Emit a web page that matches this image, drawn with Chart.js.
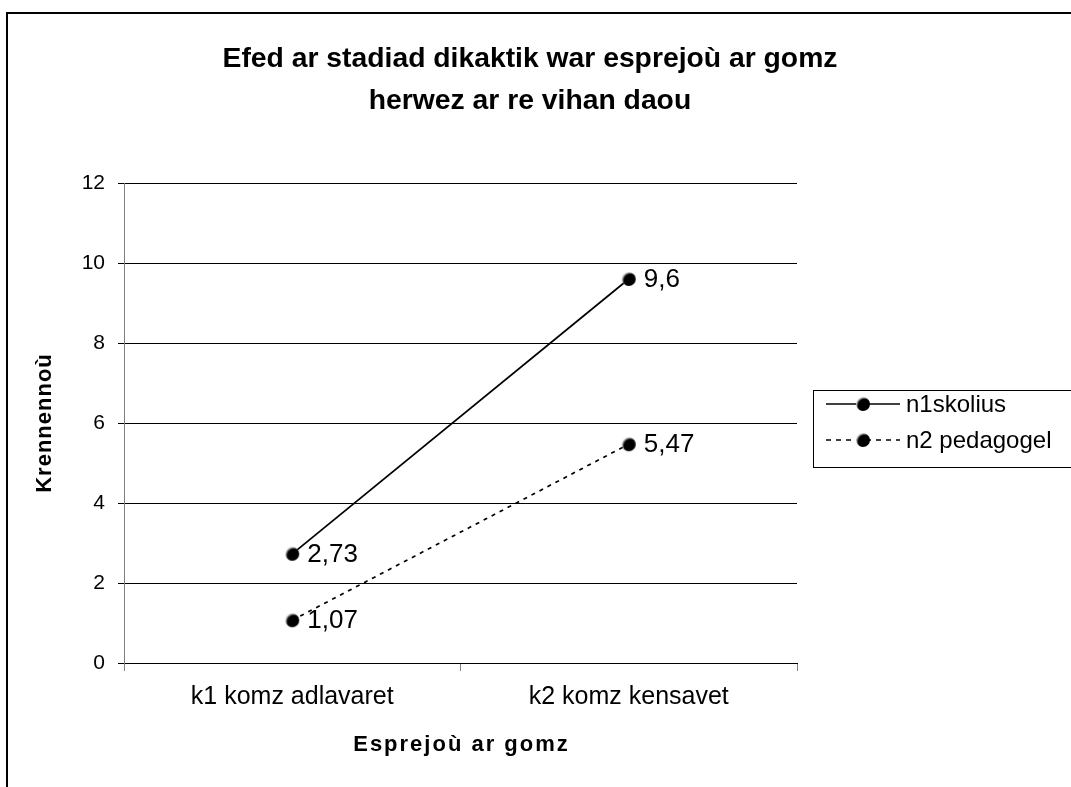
<!DOCTYPE html>
<html>
<head>
<meta charset="utf-8">
<script src="https://cdn.jsdelivr.net/npm/chart.js@4"></script>
<style>
  body { margin: 0; background: #fff; }
  #frame { position: absolute; left: 6px; top: 12px; width: 1100px; height: 800px; border: 2px solid #000; box-sizing: border-box; }
  #wrap { position: absolute; left: 0; top: 0; width: 1071px; height: 787px; }
</style>
</head>
<body>
<div id="frame"></div>
<div id="wrap"><canvas id="chart" width="1071" height="787"></canvas></div>
<script>
const categories = ['k1 komz adlavaret', 'k2 komz kensavet'];
const seriesNames = ['n1skolius', 'n2 pedagogel'];
const n1Values = [2.73, 9.6];
const n2Values = [1.07, 5.47];
const yTicks = [0, 2, 4, 6, 8, 10, 12];
const titleLines = ['Efed ar stadiad dikaktik war esprejoù ar gomz', 'herwez ar re vihan daou'];
const xTitle = 'Esprejoù ar gomz';
const yTitle = 'Krennennoù';

const FONT = '"Liberation Sans", Arial, sans-serif';

// little black ball with a light rim, like the old office marker
function makeBall(r) {
  const s = Math.ceil(r * 2 + 2);
  const c = document.createElement('canvas');
  c.width = s; c.height = s;
  const g = c.getContext('2d');
  const cx = s / 2, cy = s / 2;
  const grad = g.createRadialGradient(cx + 1.5, cy + 1.5, 0, cx + 1.5, cy + 1.5, r + 1.5);
  grad.addColorStop(0, '#000');
  grad.addColorStop(0.72, '#000');
  grad.addColorStop(1, '#d8d8d8');
  g.beginPath();
  g.arc(cx, cy, r, 0, Math.PI * 2);
  g.fillStyle = grad;
  g.fill();
  return c;
}
const ball = makeBall(7);

function fmt(v) {
  return String(v).replace('.', ',');
}

const decor = {
  id: 'decor',
  afterDraw(chart) {
    const ctx = chart.ctx;
    const area = chart.chartArea;
    ctx.save();
    ctx.fillStyle = '#000';
    ctx.textBaseline = 'middle';

    // title
    ctx.font = 'bold 28.3px ' + FONT;
    ctx.textAlign = 'center';
    titleLines.forEach((t, i) => ctx.fillText(t, 530, 59 + i * 42));

    // data labels
    ctx.font = '26px ' + FONT;
    ctx.textAlign = 'left';
    chart.data.datasets.forEach((ds, i) => {
      const meta = chart.getDatasetMeta(i);
      meta.data.forEach((pt, j) => {
        ctx.fillText(fmt(ds.data[j]), pt.x + 15, pt.y + 1);
      });
    });

    // legend
    const lx = 813.5, ly = 390.5;
    ctx.strokeStyle = '#000';
    ctx.lineWidth = 1;
    ctx.strokeRect(lx, ly, 300, 77);
    chart.data.datasets.forEach((ds, i) => {
      const y = 404 + i * 36;
      ctx.save();
      ctx.lineWidth = 1.5;
      ctx.setLineDash(ds.borderDash ? [5, 5] : []);
      ctx.beginPath();
      ctx.moveTo(826, y);
      ctx.lineTo(900, y);
      ctx.stroke();
      ctx.restore();
      ctx.drawImage(ball, 863 - ball.width / 2, y - ball.height / 2);
      ctx.font = '24px ' + FONT;
      ctx.textAlign = 'left';
      ctx.fillText(ds.label, 906, y + 1);
    });

    // axis titles
    ctx.font = 'bold 22px ' + FONT;
    ctx.textAlign = 'center';
    ctx.letterSpacing = '2px';
    ctx.fillText(xTitle, (area.left + area.right) / 2 + 1, 745);
    ctx.letterSpacing = '1px';
    ctx.translate(45, (area.top + area.bottom) / 2);
    ctx.rotate(-Math.PI / 2);
    ctx.fillText(yTitle, 0, 0);
    ctx.restore();
  }
};

const padLeft = 10, padBottom = 20;

new Chart(document.getElementById('chart').getContext('2d'), {
  type: 'line',
  data: {
    labels: categories,
    datasets: [
      {
        label: seriesNames[0],
        data: n1Values,
        borderColor: '#000',
        borderWidth: 1.7,
        pointStyle: ball,
        pointRadius: 7,
        fill: false
      },
      {
        label: seriesNames[1],
        data: n2Values,
        borderColor: '#000',
        borderWidth: 1.7,
        borderDash: [4, 5],
        pointStyle: ball,
        pointRadius: 7,
        fill: false
      }
    ]
  },
  options: {
    responsive: false,
    animation: false,
    layout: { padding: { top: 183, right: 274, bottom: padBottom, left: padLeft } },
    plugins: {
      legend: { display: false },
      title: { display: false },
      tooltip: { enabled: false }
    },
    scales: {
      x: {
        offset: true,
        grid: { offset: true, drawOnChartArea: false, color: '#808080', tickLength: 8 },
        border: { color: '#000' },
        ticks: { color: '#000', font: { family: FONT, size: 25 }, padding: 11 },
        afterFit(scale) { scale.height = 787 - 663 - padBottom; }
      },
      y: {
        min: 0,
        max: 12,
        afterBuildTicks(scale) { scale.ticks = yTicks.map(v => ({ value: v })); },
        grid: { color: '#000', lineWidth: 1, tickLength: 6 },
        border: { color: '#808080' },
        ticks: { color: '#000', font: { family: FONT, size: 21 }, padding: 13 },
        afterFit(scale) { scale.width = 124 - padLeft; }
      }
    }
  },
  plugins: [decor]
});
</script>
</body>
</html>
